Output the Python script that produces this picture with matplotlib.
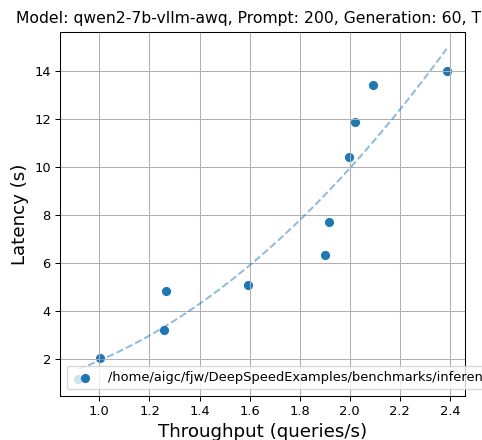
import numpy as np
from matplotlib import pyplot as plt

throughput = [0.916, 1.003, 1.258, 1.266, 1.593, 1.903, 1.919, 1.999, 2.020, 2.091, 2.387]
latency = [1.14, 2.01, 3.19, 4.80, 5.05, 6.34, 7.68, 10.43, 11.87, 13.42, 14.02]
title = "Model: qwen2-7b-vllm-awq, Prompt: 200, Generation: 60, TP: 1"
label = "/home/aigc/fjw/DeepSpeedExamples/benchmarks/inference/mii/results/qwen2-7b-vllm-awq"

DPI = 94
fig = plt.figure(figsize=(482/DPI, 440/DPI), dpi=DPI)
ax = fig.add_axes([60/482, 44.3/440, 405/482, 363.4/440])

ax.scatter(throughput, latency, label=label)

# trend line (quadratic fit)
coef = np.polyfit(throughput, latency, 2)
xs = np.linspace(min(throughput), max(throughput), 100)
ax.plot(xs, np.polyval(coef, xs), '--', color='C0', alpha=0.5)

fig.text(16/482, 1 - 19/440, title, ha='left', va='center', fontsize=12)
ax.set_xlabel("Throughput (queries/s)", fontsize=14)
ax.set_ylabel("Latency (s)", fontsize=14)
ax.grid(True)
ax.legend(loc='lower left')

fig.savefig("out.png", dpi=DPI)
